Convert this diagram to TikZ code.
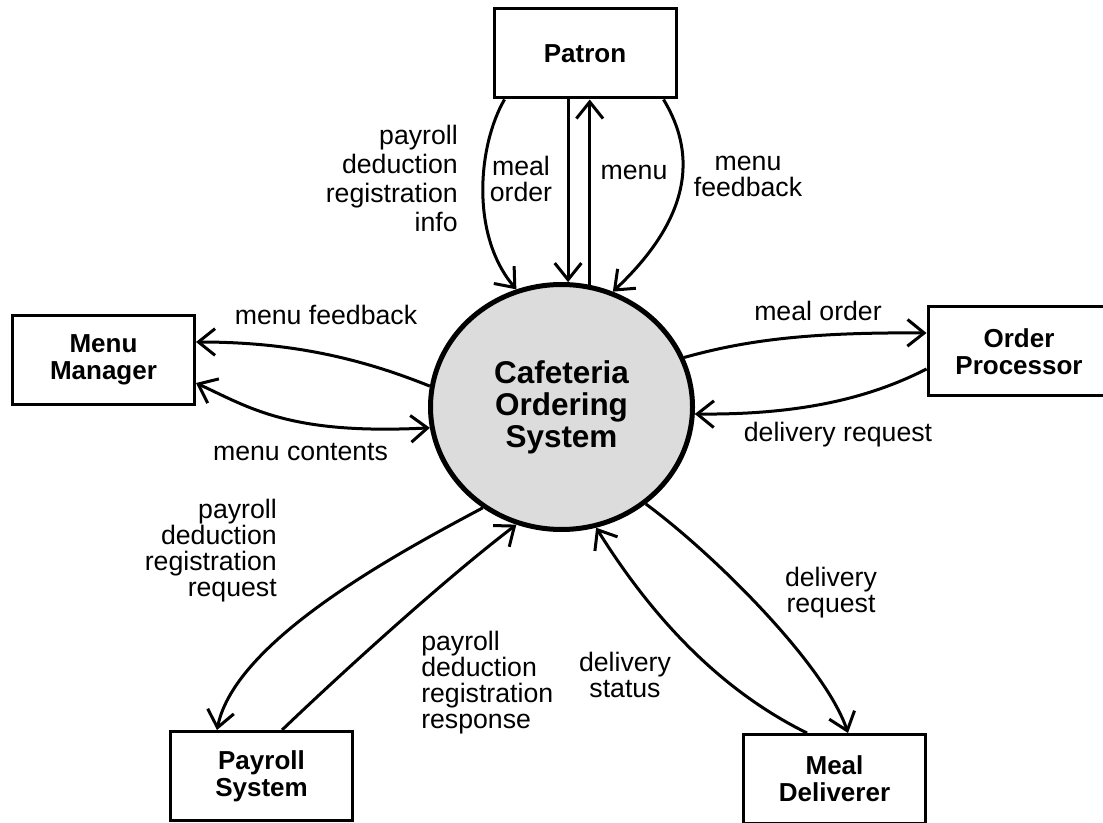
\documentclass[tikz,border=0pt]{standalone}
\usepackage{fontspec}
\setmainfont{Liberation Sans}
\usetikzlibrary{arrows.meta,shapes.geometric,calc}
\definecolor{bubble}{RGB}{220,220,220}
\begin{document}
\begin{tikzpicture}[x=0.75pt,y=-0.75pt,
  >={Straight Barb[length=12.5pt,width=20pt]},
  ext/.style={draw, line width=2.25pt, minimum width=136.5pt, minimum height=66.75pt,
    inner sep=0pt, align=center, font=\fontsize{19.5pt}{20.25pt}\selectfont\bfseries},
  proc/.style={ellipse, draw, line width=3.75pt, fill=bubble, minimum width=196.5pt,
    minimum height=183.75pt, inner sep=0pt, align=center,
    font=\fontsize{23.6pt}{24pt}\selectfont\bfseries},
  flow/.style={line width=2.25pt, ->},
  lbl/.style={inner sep=0pt, align=center, font=\fontsize{20pt}{19.5pt}\selectfont},
]
\useasboundingbox (0,0) rectangle (1103,823);

% nodes
\node[proc] (cof) at (561.5,407) {Cafeteria\\Ordering\\System};
\node[ext] (patron) at (585,53.5) {Patron};
\node[ext] (menu) at (103.5,360) {Menu\\Manager};
\node[ext] (op) at (1019,351.5) {Order\\Processor};
\node[ext] (ps) at (261.5,776) {Payroll\\System};
\node[ext] (md) at (834.5,779) {Meal\\Deliverer};

% Patron flows
\draw[flow] ($(patron.south west)+(12,0)$) .. controls (478,145) and (470,235) .. (cof.111.2);
\draw[flow] (patron.south -| cof.87.5) -- (cof.87.5);
\draw[flow] (cof.77.3) -- (patron.south -| cof.77.3);
\draw[flow] ($(patron.south east)+(-14,0)$) .. controls (688,140) and (705,205) .. (cof.66.6);

% Menu Manager flows
\draw[flow] (cof.171.8) .. controls (360,358) and (290,342) .. ($(menu.east)+(0,-18)$);
\draw[flow,<->] ($(menu.east)+(0,23)$) .. controls (250,408) and (290,435) .. (cof.189.8);

% Order Processor flows
\draw[flow] (cof.22) .. controls (740,342) and (800,332) .. ($(op.west)+(0,-18.5)$);
\draw[flow] ($(op.west)+(0,17.5)$) .. controls (870,398) and (800,415) .. (cof.-3.4);

% Payroll System flows
\draw[flow] (cof.232.7) .. controls (400,552) and (235,640) .. ($(ps.north west)+(48,0)$);
\draw[flow] ($(ps.north west)+(113,0)$) .. controls (350,665) and (450,575) .. (cof.249.8);

% Meal Deliverer flows
\draw[flow] ($(md.north west)+(65,0)$) .. controls (730,695) and (660,630) .. (cof.286.5);
\draw[flow] (cof.311.7) .. controls (715,555) and (825,665) .. ($(md.north west)+(106,0)$);

% labels
\node[lbl, align=right, anchor=east, font=\fontsize{20pt}{21.75pt}\selectfont] (l1) at (458,178.5) {payroll\\deduction\\registration\\info};
\node[lbl] (l2) at (521,179) {meal\\order};
\node[lbl] (l3) at (634,172) {menu};
\node[lbl] (l4) at (748,176) {menu\\feedback};
\node[lbl] (l5) at (326,315) {menu feedback};
\node[lbl] (l6) at (300.5,452) {menu contents};
\node[lbl] (l7) at (818,311) {meal order};
\node[lbl] (l8) at (838,435) {delivery request};
\node[lbl, align=right, anchor=east] (l9) at (277,551) {payroll\\deduction\\registration\\request};
\node[lbl, align=left, anchor=west] (l10) at (421,682.5) {payroll\\deduction\\registration\\response};
\node[lbl] (l11) at (625,675) {delivery\\status};
\node[lbl] (l12) at (831,593) {delivery\\request};
\end{tikzpicture}
\end{document}
